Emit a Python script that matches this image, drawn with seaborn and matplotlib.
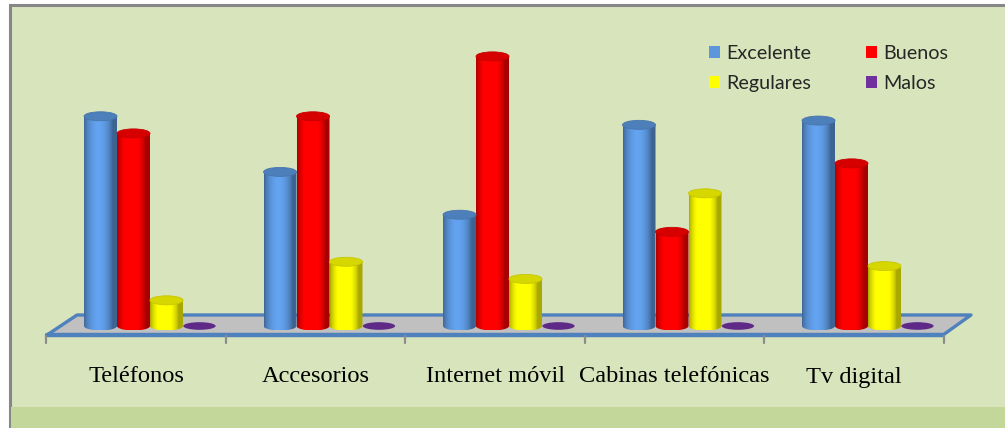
import numpy as np
import pandas as pd
import matplotlib
matplotlib.use("Agg")
import matplotlib.pyplot as plt
import seaborn as sns
from matplotlib.patches import Rectangle, Polygon, Ellipse, PathPatch, Patch
from matplotlib.path import Path

# ---- data -------------------------------------------------------------
categorias = ["Teléfonos", "Accesorios", "Internet móvil",
              "Cabinas telefónicas", "Tv digital"]
series = ["Excelente", "Buenos", "Regulares", "Malos"]
excelente = [49, 36, 26, 47, 48]
buenos = [45, 49, 63, 22, 38]
regulares = [6, 15, 11, 31, 14]
malos = [0, 0, 0, 0, 0]

colores = {"Excelente": "#5C97DE", "Buenos": "#FF0000",
           "Regulares": "#FFFF00", "Malos": "#7030A0"}

df = pd.DataFrame({
    "categoria": categorias * 4,
    "serie": np.repeat(series, len(categorias)),
    "valor": excelente + buenos + regulares + malos,
})

# ---- figure / canvas --------------------------------------------------
W, H = 1005, 428
sns.set_theme(style="white")
fig = plt.figure(figsize=(W / 100, H / 100), dpi=100)
fig.patch.set_facecolor("white")


def fpx(x, y):
    """pixel position (from top-left) -> figure fraction"""
    return (x / W, 1 - y / H)


# panel background with grey border and darker bottom strip
fig.patches.append(Rectangle(fpx(9.5, 432), (W + 5) / W, 426.5 / H,
                             transform=fig.transFigure, facecolor="#D8E4BC",
                             edgecolor="#878787", linewidth=2.2, zorder=-3))
fig.patches.append(Rectangle(fpx(11, 430), 1.0, 23 / H,
                             transform=fig.transFigure, facecolor="#C4D79B",
                             edgecolor="none", zorder=-2))

# axes spanning the whole canvas: 1 category = 179.5 px, 1 % = 4.28 px
ax = fig.add_axes([0, 0, 1, 1])
ax.set_facecolor("none")
XS, YS = 179.5, 4.28
X0, Y0 = 150.0, 326.0
xlim = (-X0 / XS, (W - X0) / XS)
ylim = (-(H - Y0) / YS, Y0 / YS)

sns.barplot(data=df, x="categoria", y="valor", hue="serie",
            hue_order=series, order=categorias, palette=colores,
            width=0.735, gap=0, errorbar=None, saturation=1,
            edgecolor="none", linewidth=0, legend=False, ax=ax)


def pxd(x, y):
    return ((x - X0) / XS, (Y0 - y) / YS)


# ---- floor ------------------------------------------------------------
floor = [pxd(77, 315), pxd(971, 315), pxd(943, 335), pxd(47, 335)]
ax.add_patch(Polygon(floor, closed=True, facecolor="#C0C0C0",
                     edgecolor="#4F81BD", linewidth=2.4, joinstyle="round",
                     zorder=1))
ax.plot([floor[3][0], floor[2][0]], [floor[3][1], floor[2][1]],
        color="#4F81BD", lw=3.2, solid_capstyle="round", zorder=1.1)

# category boundary ticks under the floor
shift = -14 / XS
for b in np.arange(len(categorias) + 1) - 0.5 + shift:
    ax.plot([b, b], [pxd(0, 336)[1], pxd(0, 343)[1]], color="#8C8C8C",
            lw=1.6, zorder=1.2)

# ---- cylinders --------------------------------------------------------
eh = 9.0 / YS          # ellipse height in data units
t = np.linspace(0, 1, 64)
shade = 0.66 + 0.42 * np.sin(np.pi * np.clip(t * 1.15, 0, 1)) ** 0.7
shade = np.minimum(shade, 1.08)

bars = [p for p in ax.patches if isinstance(p, Rectangle)]
for patch in bars:
    x, w, h = patch.get_x(), patch.get_width(), patch.get_height()
    rgb = np.array(patch.get_facecolor()[:3])
    patch.set_visible(False)
    cx = x + w / 2
    if h <= 0:
        ax.add_patch(Ellipse((cx, 0), w * 0.98, eh * 0.85,
                             facecolor=rgb * 0.85, edgecolor="none",
                             zorder=3))
        continue
    # gradient body with rounded bottom
    img = np.clip(rgb[None, None, :] * shade[None, :, None], 0, 1)
    img = np.repeat(img, 2, axis=0)
    ang = np.linspace(np.pi, 2 * np.pi, 40)
    bottom = np.column_stack([cx + w / 2 * np.cos(ang),
                              eh / 2 * np.sin(ang)])
    verts = np.vstack([[x, h], bottom, [x + w, h], [x, h]])
    clip = PathPatch(Path(verts), transform=ax.transData,
                     facecolor="none", edgecolor="none")
    ax.add_patch(clip)
    im = ax.imshow(img, extent=(x, x + w, -eh / 2, h), aspect="auto",
                   interpolation="bilinear", zorder=3)
    im.set_clip_path(clip)
    # top cap
    ax.add_patch(Ellipse((cx, h), w, eh, facecolor=np.clip(rgb * 0.84, 0, 1),
                         edgecolor=np.clip(rgb * 0.78, 0, 1), linewidth=0.6,
                         zorder=4))

# ---- category labels --------------------------------------------------
ly = pxd(0, 377)[1]
for i, c in enumerate(categorias):
    ax.text(i + shift, ly, c, ha="center", va="center",
            fontsize=17.6, family="Liberation Serif", color="black")

ax.set_xlim(*xlim)
ax.set_ylim(*ylim)
ax.set_xticks([])
ax.set_yticks([])
ax.set_xlabel("")
ax.set_ylabel("")
for s in ax.spines.values():
    s.set_visible(False)

# ---- legend (row-wise order) ------------------------------------------
order = ["Excelente", "Regulares", "Buenos", "Malos"]
handles = [Patch(facecolor=colores[s], edgecolor="none") for s in order]
fig.legend(handles, order, ncol=2, loc="upper left",
           bbox_to_anchor=fpx(709, 45), bbox_transform=fig.transFigure,
           frameon=False, borderpad=0, borderaxespad=0, handlelength=0.55,
           handleheight=0.55, handletextpad=0.3, columnspacing=2.8,
           labelspacing=0.68, prop={"family": "Lato", "size": 14.2})

fig.savefig("out.png", dpi=100)
